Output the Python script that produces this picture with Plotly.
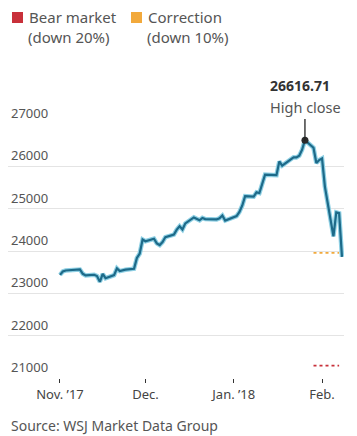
import plotly.graph_objects as go

# ---------------- data ----------------
dates = [
    "2017-11-01", "2017-11-02", "2017-11-03", "2017-11-06", "2017-11-07", "2017-11-08",
    "2017-11-09", "2017-11-10", "2017-11-13", "2017-11-14", "2017-11-15", "2017-11-16",
    "2017-11-17", "2017-11-20", "2017-11-21", "2017-11-22", "2017-11-24", "2017-11-27",
    "2017-11-28", "2017-11-29", "2017-11-30", "2017-12-01", "2017-12-04", "2017-12-05",
    "2017-12-06", "2017-12-07", "2017-12-08", "2017-12-11", "2017-12-12", "2017-12-13",
    "2017-12-14", "2017-12-15", "2017-12-18", "2017-12-19", "2017-12-20", "2017-12-21",
    "2017-12-22", "2017-12-26", "2017-12-27", "2017-12-28", "2017-12-29", "2018-01-02",
    "2018-01-03", "2018-01-04", "2018-01-05", "2018-01-08", "2018-01-09", "2018-01-10",
    "2018-01-11", "2018-01-12", "2018-01-16", "2018-01-17", "2018-01-18", "2018-01-19",
    "2018-01-22", "2018-01-23", "2018-01-24", "2018-01-25", "2018-01-26", "2018-01-29",
    "2018-01-30", "2018-01-31", "2018-02-01", "2018-02-02", "2018-02-05", "2018-02-06",
    "2018-02-07", "2018-02-08",
]
closes = [
    23435, 23516, 23539, 23548, 23557, 23563,
    23461, 23422, 23439, 23409, 23271, 23458,
    23358, 23430, 23590, 23526, 23558, 23580,
    23836, 23940, 24272, 24231, 24290, 24180,
    24140, 24211, 24329, 24386, 24504, 24585,
    24509, 24652, 24792, 24754, 24726, 24782,
    24754, 24746, 24774, 24838, 24719, 24824,
    24922, 25075, 25296, 25283, 25385, 25369,
    25575, 25803, 25792, 26116, 26017, 26072,
    26214, 26211, 26252, 26393, 26617, 26439,
    26077, 26149, 26187, 25521, 24346, 24913,
    24893, 23860,
]
high_date = "2018-01-26"
high_close = 26616.71
correction_level = 23955.04   # down 10%
bear_level = 21293.37         # down 20%
level_dates = ["2018-01-29", "2018-02-07"]

y_ticks = [21000, 22000, 23000, 24000, 25000, 26000, 27000]
x_tickvals = ["2017-11-01", "2017-12-01", "2018-01-01", "2018-02-01"]
x_ticktext = ["Nov. \u201917", "Dec.", "Jan. \u201918", "Feb."]

# ---------------- layout helpers ----------------
W, H = 357, 436
L, R, T, B = 8, 13, 124, 58
PW, PH = W - L - R, H - T - B

def px(x):
    return (x - L) / PW

def py(y):
    return (H - B - y) / PH

FONT = "Noto Sans"
GRAY = "#555555"
LINE = "#1d6a89"
HALO = "#8fd0e4"

fig = go.Figure()

# level lines
fig.add_trace(go.Scatter(x=level_dates, y=[correction_level] * 2, mode="lines",
                         line=dict(color="#f2a93b", width=1.6, dash="dot"),
                         hoverinfo="skip", showlegend=False))
fig.add_trace(go.Scatter(x=level_dates, y=[bear_level] * 2, mode="lines",
                         line=dict(color="#c8303a", width=1.6, dash="dot"),
                         hoverinfo="skip", showlegend=False))

# halo + main line
fig.add_trace(go.Scatter(x=dates, y=closes, mode="lines",
                         line=dict(color=HALO, width=4.5), hoverinfo="skip",
                         showlegend=False))
fig.add_trace(go.Scatter(x=dates, y=closes, mode="lines",
                         line=dict(color=LINE, width=2.2), showlegend=False))

# pointer line to the high close
fig.add_shape(type="line", xref="x", yref="paper", x0=high_date, x1=high_date,
              y0=py(141), y1=py(119), line=dict(color="#222222", width=1.3))
fig.add_trace(go.Scatter(x=[high_date], y=[high_close], mode="markers",
                         marker=dict(color="#2a2a2a", size=7), cliponaxis=False,
                         showlegend=False))

annotations = []
# y tick labels above the gridlines
for v in y_ticks:
    annotations.append(dict(x=px(9), xref="paper", y=v, yref="y", text=f"{v}",
                            xanchor="left", yanchor="bottom", yshift=0, showarrow=False,
                            font=dict(family=FONT, size=13, color=GRAY)))

# high close label
annotations.append(dict(x=px(268), xref="paper", y=py(85), yref="paper",
                        text="<b>26616.71</b>", xanchor="left", yanchor="middle",
                        showarrow=False, font=dict(family=FONT, size=14, color="#333333")))
annotations.append(dict(x=px(268), xref="paper", y=py(107), yref="paper",
                        text="High close", xanchor="left", yanchor="middle",
                        showarrow=False, font=dict(family=FONT, size=14.5, color=GRAY)))

# legend
legend_items = [(12, "#c8303a", "Bear market", "(down 20%)"),
                (131, "#f2a93b", "Correction", "(down 10%)")]
for x0, col, l1, l2 in legend_items:
    fig.add_shape(type="rect", xref="paper", yref="paper",
                  x0=px(x0), x1=px(x0 + 11), y0=py(12), y1=py(23),
                  fillcolor=col, line=dict(width=0))
    annotations.append(dict(x=px(x0 + 15), xref="paper", y=py(17), yref="paper",
                            text=l1, xanchor="left", yanchor="middle", showarrow=False,
                            font=dict(family=FONT, size=15, color=GRAY)))
    annotations.append(dict(x=px(x0 + 14), xref="paper", y=py(37), yref="paper",
                            text=l2, xanchor="left", yanchor="middle", showarrow=False,
                            font=dict(family=FONT, size=15, color=GRAY)))

# source
annotations.append(dict(x=px(9), xref="paper", y=py(425), yref="paper",
                        text="Source: WSJ Market Data Group", xanchor="left",
                        yanchor="middle", showarrow=False,
                        font=dict(family=FONT, size=14, color=GRAY)))

fig.update_layout(
    width=W, height=H,
    margin=dict(l=L, r=R, t=T, b=B, pad=0),
    paper_bgcolor="white", plot_bgcolor="white",
    showlegend=False,
    annotations=annotations,
    xaxis=dict(type="date", range=["2017-10-13 18:00", "2018-02-08 17:00"],
               tickvals=x_tickvals, ticktext=x_ticktext,
               ticks="outside", ticklen=4, tickwidth=1, tickcolor="#333333",
               showgrid=False, showline=False, zeroline=False,
               tickfont=dict(family=FONT, size=13, color="#444444")),
    yaxis=dict(range=[21000, 27000], tickvals=y_ticks, showticklabels=False,
               showgrid=True, gridcolor="#e4e4e4", gridwidth=1,
               zeroline=False, showline=False, ticks=""),
)

fig.write_html("out.html")
